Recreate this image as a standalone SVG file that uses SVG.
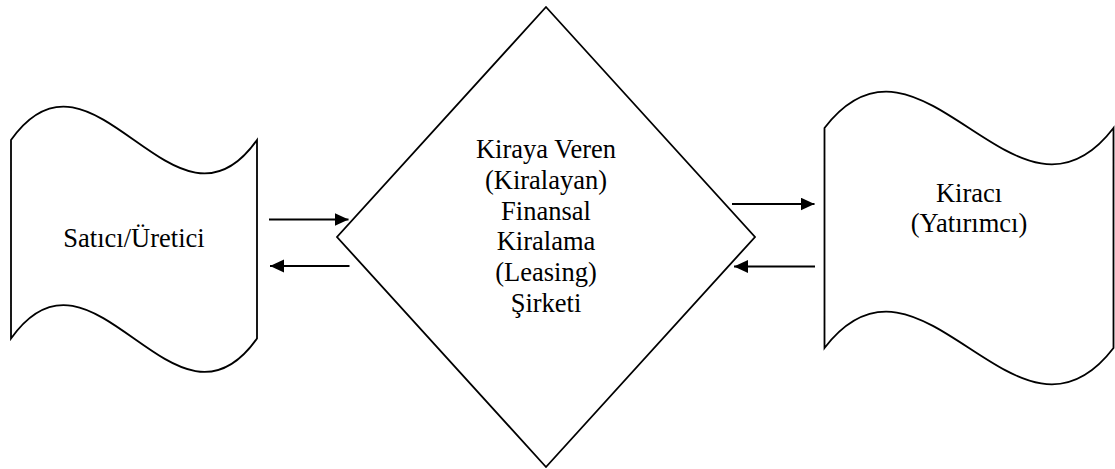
<svg xmlns="http://www.w3.org/2000/svg" width="1115" height="469" viewBox="0 0 1115 469">
  <style>
    .shape { fill: #ffffff; stroke: #000000; stroke-width: 1.8; stroke-linejoin: miter; }
    .conn { stroke: #000000; stroke-width: 2; fill: none; }
    .label { font-family: 'Liberation Serif', 'Times New Roman', Tinos, 'DejaVu Serif', serif; font-size: 26.5px; fill: #000000; text-anchor: middle; }
  </style>
  <defs>
    <marker id="arrow" markerUnits="userSpaceOnUse" markerWidth="15" markerHeight="14" refX="14" refY="6.5" orient="auto">
      <path d="M0,0 L14,6.5 L0,13 Z" fill="#000000"/>
    </marker>
  </defs>
  <rect width="1115" height="469" fill="#ffffff"/>

  <g id="node-satici">
    <path class="shape" d="M 11 140 C 93 24, 175 256, 257 140 L 257 338.5 C 175 454.5, 93 222.5, 11 338.5 Z"/>
    <text class="label" font-family="Liberation Serif, Times New Roman, serif" x="134" y="247">Satıcı/Üretici</text>
  </g>

  <g id="node-kiraya-veren">
    <path class="shape" d="M 546 7 L 755 237 L 546 467 L 337 237 Z"/>
    <text class="label" font-family="Liberation Serif, Times New Roman, serif" x="546" y="158">Kiraya Veren</text>
    <text class="label" font-family="Liberation Serif, Times New Roman, serif" x="546" y="188.5">(Kiralayan)</text>
    <text class="label" font-family="Liberation Serif, Times New Roman, serif" x="546" y="219.5">Finansal</text>
    <text class="label" font-family="Liberation Serif, Times New Roman, serif" x="546" y="250">Kiralama</text>
    <text class="label" font-family="Liberation Serif, Times New Roman, serif" x="546" y="281">(Leasing)</text>
    <text class="label" font-family="Liberation Serif, Times New Roman, serif" x="546" y="311.5">Şirketi</text>
  </g>

  <g id="node-kiraci">
    <path class="shape" d="M 824.5 128 C 921 2, 1017 254, 1113.5 128 L 1113.5 348 C 1017 474, 921 222, 824.5 348 Z"/>
    <text class="label" font-family="Liberation Serif, Times New Roman, serif" x="969" y="201.5">Kiracı</text>
    <text class="label" font-family="Liberation Serif, Times New Roman, serif" x="969" y="232">(Yatırımcı)</text>
  </g>

  <g id="connectors">
    <line class="conn" x1="269" y1="219.5" x2="348.5" y2="219.5" marker-end="url(#arrow)"/>
    <line class="conn" x1="349.5" y1="266" x2="270" y2="266" marker-end="url(#arrow)"/>
    <line class="conn" x1="732" y1="204" x2="814.5" y2="204" marker-end="url(#arrow)"/>
    <line class="conn" x1="815" y1="266.5" x2="734" y2="266.5" marker-end="url(#arrow)"/>
  </g>
</svg>
